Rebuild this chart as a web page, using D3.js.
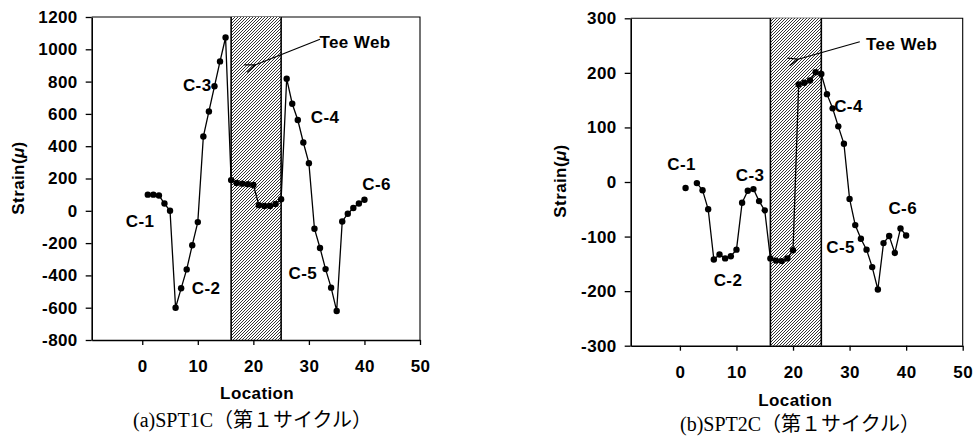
<!DOCTYPE html>
<html><head><meta charset="utf-8">
<script src="https://cdn.jsdelivr.net/npm/d3@7"></script>
<style>body{margin:0;background:#fff}</style>
</head><body><svg id="c" width="977" height="439"></svg>
<script>
// ---- data ----
const locations = d3.range(1, 41);
const strainA = [100,100,95,45,0,-600,-480,-363,-213,-70,460,615,771,925,1073,190,172,168,165,160,35,30,30,42,72,818,663,562,423,295,-111,-230,-361,-476,-620,-66,-18,17,45,68];
const strainB = [-11,null,-2,-15,-50,-142,-133,-140,-136,-124,-38,-16,-13,-35,-52,-140,-144,-145,-140,-125,179,182,186,201,198,161,135,102,70,-31,-79,-104,-124,-156,-197,-112,-99,-130,-85,-98];
const xTicks = [0,10,20,30,40,50];
const yTicksA = [-800,-600,-400,-200,0,200,400,600,800,1000,1200];
const yTicksB = [-300,-200,-100,0,100,200,300];
const teeWeb = [16,25];
const labelNames = ["C-1","C-2","C-3","C-4","C-5","C-6"];
const labelLocA = [-0.4,11.5,9.9,32.9,28.9,42.2];
const labelValA = [-63,-478,779,580,-383,166];
const labelLocB = [0.3,8.5,12.4,29.8,28.4,39.4];
const labelValB = [34,-180,13,139,-119,-48];
const teeTextA = [38.3,1047], teeArrowA = [[32.0,1062],[20.3,903]];
const teeTextB = [39.2,254], teeArrowB = [[31.8,257],[20.9,225]];
const captionA = "(a)SPT1C（第１サイクル）";
const captionB = "(b)SPT2C（第１サイクル）";

const svg = d3.select("#c");
const defs = svg.append("defs");
const pat = defs.append("pattern").attr("id","hatch").attr("patternUnits","userSpaceOnUse")
  .attr("width",3).attr("height",3);
pat.append("rect").attr("width",3).attr("height",3).attr("fill","#fff");
pat.append("path").attr("d","M-1,1 L1,-1 M0,3 L3,0 M2,4 L4,2").attr("stroke","#000").attr("stroke-width",0.8);
const mk = defs.append("marker").attr("id","arr").attr("viewBox","0 0 12 10").attr("refX",1).attr("refY",5)
  .attr("markerWidth",12).attr("markerHeight",10).attr("markerUnits","userSpaceOnUse").attr("orient","auto-start-reverse");
mk.append("path").attr("d","M11,1 L1,5 L11,9").attr("fill","none").attr("stroke","#000").attr("stroke-width",1.3);

const sans = "'Liberation Sans', Arial, sans-serif";

function bold(sel, size) {
  return sel.attr("font-family",sans).attr("font-weight","bold").attr("font-size",size).attr("letter-spacing","0.4px").attr("fill","#000");
}

function chart(o) {
  const x = d3.scaleLinear().domain(o.xd).range(o.xr);
  const y = d3.scaleLinear().domain(o.yd).range(o.yr);
  const g = svg.append("g");
  g.append("path").attr("d",`M${o.xr[0]},${o.yr[1]}H${o.xr[1]}V${o.yr[0]}`).attr("fill","none").attr("stroke","#000").attr("stroke-width",1.1);
  g.append("rect").attr("x",x(teeWeb[0])).attr("y",o.yr[1]).attr("width",x(teeWeb[1])-x(teeWeb[0]))
    .attr("height",o.yr[0]-o.yr[1]).attr("fill","url(#hatch)");
  [teeWeb[0],teeWeb[1]].forEach(v=>g.append("line").attr("x1",x(v)).attr("x2",x(v)).attr("y1",o.yr[1]).attr("y2",o.yr[0]).attr("stroke","#000").attr("stroke-width",1.6));
  const ax = g.append("g").attr("transform",`translate(0,${o.yr[0]})`)
    .call(d3.axisBottom(x).tickValues(xTicks).tickFormat(d=>String(d)).tickSize(5).tickPadding(15).tickSizeOuter(0));
  const ay = g.append("g").attr("transform",`translate(${o.xr[0]},0)`)
    .call(d3.axisLeft(y).tickValues(o.yt).tickFormat(d=>String(d)).tickSize(6).tickPadding(8).tickSizeOuter(0));
  [ax,ay].forEach(a=>{
    a.select(".domain").attr("stroke","#000").attr("stroke-width",1.6);
    a.selectAll(".tick line").attr("stroke","#000").attr("stroke-width",1.3);
    bold(a.selectAll("text"), 17);
  });
  const pts = locations.map((l,i)=>({l, v:o.data[i]}));
  g.append("path").datum(pts).attr("fill","none").attr("stroke","#000").attr("stroke-width",1.3)
    .attr("d", d3.line().defined(d=>d.v!==null).x(d=>x(d.l)).y(d=>y(d.v)));
  g.selectAll("circle").data(pts.filter(d=>d.v!==null)).join("circle")
    .attr("cx",d=>x(d.l)).attr("cy",d=>y(d.v)).attr("r",3.2).attr("fill","#000");
  labelNames.forEach((t,i)=>bold(g.append("text"),17).attr("x",x(o.ll[i])).attr("y",y(o.lv[i])).attr("dy","0.36em")
    .attr("text-anchor","middle").text(t));
  bold(g.append("text"),17).attr("x",x(o.tt[0])).attr("y",y(o.tt[1])).attr("dy","0.36em").attr("text-anchor","middle").text("Tee Web");
  g.append("line").attr("x1",x(o.ta[0][0])).attr("y1",y(o.ta[0][1])).attr("x2",x(o.ta[1][0])).attr("y2",y(o.ta[1][1]))
    .attr("stroke","#000").attr("stroke-width",1.2).attr("marker-end","url(#arr)");
  const st = bold(g.append("text"),17).attr("transform",`translate(${o.sx},${o.sy}) rotate(-90)`).attr("dy","0.36em").attr("text-anchor","middle");
  st.append("tspan").text("Strain(");
  st.append("tspan").attr("font-style","italic").text("μ");
  st.append("tspan").text(")");
  bold(g.append("text"),17).attr("x",(x(xTicks[0])+x(xTicks[5]))/2+(o.lx||0)).attr("y",o.ly).attr("dy","0.36em").attr("text-anchor","middle").text("Location");
  g.append("text").attr("x",o.cx).attr("y",o.cy).attr("dy","0.36em")
    .attr("font-family","'Liberation Serif','Times New Roman','Noto Sans CJK JP',serif").attr("font-size",20).attr("fill","#000").text(o.cap);
}

chart({xd:[-9.1,50], xr:[91.7,420], yd:[-800,1200], yr:[340,17], yt:yTicksA, data:strainA,
  ll:labelLocA, lv:labelValA, tt:teeTextA, ta:teeArrowA, sx:18, sy:178, ly:393, lx:-24, cx:133, cy:420, cap:captionA});
chart({xd:[-8.7,50], xr:[630.7,962.7], yd:[-300,300], yr:[345.7,18.3], yt:yTicksB, data:strainB,
  ll:labelLocB, lv:labelValB, tt:teeTextB, ta:teeArrowB, sx:560, sy:181, ly:400, lx:-26, cx:680, cy:424, cap:captionB});
</script></body></html>
